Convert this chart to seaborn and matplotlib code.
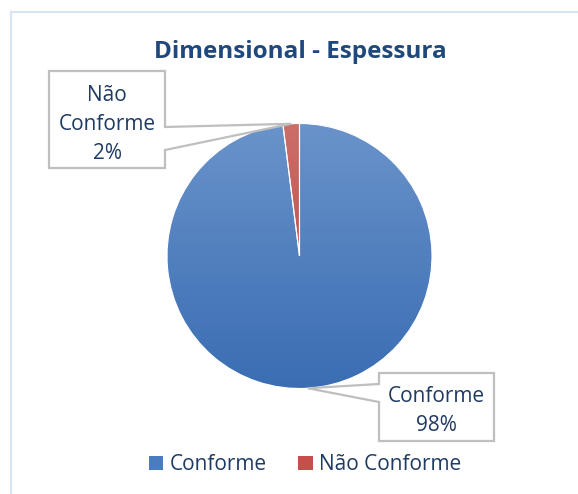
import numpy as np
import matplotlib
matplotlib.use("Agg")
import matplotlib.pyplot as plt
from matplotlib.patches import Polygon, Rectangle
from matplotlib.colors import LinearSegmentedColormap
import seaborn as sns

# Data
categories = ["Conforme", "Não Conforme"]
shares = [98, 2]
title = "Dimensional - Espessura"

# Gradient end colours per slice (top, bottom)
grad_colors = [("#6a93ca", "#3a6db3"), ("#cc6e6a", "#bd3d39")]
legend_colors = ["#4a7cc0", "#c4504c"]

sns.set_theme(style="white")
plt.rcParams["font.family"] = ["Open Sans", "DejaVu Sans"]

W, H = 578, 494
fig = plt.figure(figsize=(W / 100, H / 100), dpi=100)
ax = fig.add_axes([0, 0, 1, 1])
ax.set_xlim(0, W)
ax.set_ylim(0, H)
ax.set_aspect("equal")
ax.axis("off")


def py(y):
    """Convert a top-down pixel row into data y."""
    return H - y


# Chart area frame (open to the right and bottom)
ax.add_patch(Rectangle((11, py(600)), 700, 588, fill=False,
                       edgecolor="#dae5f3", linewidth=1.6, zorder=0))

cx, cy, r = 299.5, py(256), 132.5
wedges, _ = ax.pie(shares, startangle=90, counterclock=False,
                   center=(cx, cy), radius=r, frame=True,
                   wedgeprops=dict(facecolor="none", edgecolor="white",
                                   linewidth=0.8))
ax.set_xlim(0, W)
ax.set_ylim(0, H)
ax.axis("off")

# Vertical gradient fill clipped to each wedge
grad = np.linspace(0, 1, 256).reshape(-1, 1)
for w, (top, bot) in zip(wedges, grad_colors):
    cmap = LinearSegmentedColormap.from_list("g", [bot, top])
    im = ax.imshow(grad, cmap=cmap, origin="lower", aspect="auto",
                   extent=(cx - r, cx + r, cy - r, cy + r), zorder=1)
    im.set_clip_path(w)
    w.set_zorder(2)

ax.set_xlim(0, W)
ax.set_ylim(0, H)

# Label anchor points on the rim, from each slice's mid angle
total = sum(shares)
start = 90.0
tips = []
for v in shares:
    mid = start - 360.0 * v / total / 2
    a = np.deg2rad(mid)
    tips.append((cx + r * np.cos(a), cy + r * np.sin(a)))
    start -= 360.0 * v / total

edge = "#bfbfbf"
txt_color = "#1f3b63"
fs = 15

# Callout for "Não Conforme"
bx0, by0, bx1, by1 = 49, 71, 165, 168
tx, ty = tips[1]
pts = [(bx0, py(by0)), (bx1, py(by0)), (bx1, py(127)), (tx, ty),
       (bx1, py(150)), (bx1, py(by1)), (bx0, py(by1))]
ax.add_patch(Polygon(pts, closed=True, facecolor="white", edgecolor=edge,
                     linewidth=1.6, zorder=3))
ax.text((bx0 + bx1) / 2, py((by0 + by1) / 2 + 5),
        f"{categories[1].split()[0]}\n{categories[1].split()[1]}\n{shares[1]}%",
        ha="center", va="center", fontsize=fs, color=txt_color,
        linespacing=1.5, zorder=4)

# Callout for "Conforme"
cx0, cy0, cx1, cy1 = 379, 373, 494, 441
tx, ty = tips[0]
pts = [(cx0, py(cy0)), (cx1, py(cy0)), (cx1, py(cy1)), (cx0, py(cy1)),
       (cx0, py(402)), (tx, ty), (cx0, py(384))]
ax.add_patch(Polygon(pts, closed=True, facecolor="white", edgecolor=edge,
                     linewidth=1.6, zorder=3))
ax.text((cx0 + cx1) / 2, py((cy0 + cy1) / 2 + 4),
        f"{categories[0]}\n{shares[0]}%",
        ha="center", va="center", fontsize=fs, color=txt_color,
        linespacing=1.45, zorder=4)

# Title
ax.text(W / 2 + 11, py(52), title, ha="center", va="center",
        fontsize=17.5, fontweight="bold", color="#1f497d")

# Legend
handles = [Rectangle((0, 0), 1, 1, facecolor=c, edgecolor="none")
           for c in legend_colors]
leg = fig.legend(handles, categories, loc="center",
                 bbox_to_anchor=(305 / W, 1 - 465 / H), ncol=2,
                 frameon=False, fontsize=fs, handlelength=0.7,
                 handleheight=0.7, handletextpad=0.3, columnspacing=1.5)
for t in leg.get_texts():
    t.set_color(txt_color)

fig.savefig("out.png", dpi=100)
